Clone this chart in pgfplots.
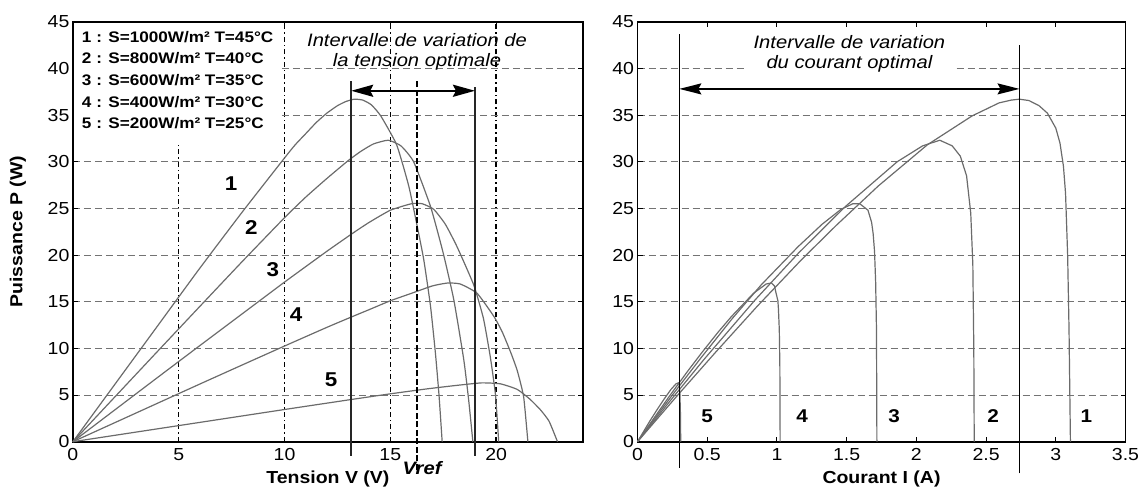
\documentclass[border=0pt]{standalone}
\usepackage{pgfplots}
\pgfplotsset{compat=1.18}
\usetikzlibrary{arrows.meta}
\usepackage{fontspec}
\setmainfont{Liberation Sans}[FakeStretch=1.12]

\pgfplotstableread{
V P
0 0
1 3.1
2 6.2
4 12.4
6 18.6
8 24.6
10 30.4
10.5 31.8
11 33.0
11.5 34.2
12 35.2
12.5 36.0
12.9 36.45
13.3 36.7
13.7 36.6
14.1 36.1
14.55 34.9
15.3 31.8
15.87 27.4
16.26 23.2
16.58 19.5
16.9 14.5
17.13 9.5
17.3 5
17.45 0
}\cvA
\pgfplotstableread{
V P
0 0
2 4.84
4 9.68
6 14.5
8 19.3
10 24.0
11 26.2
12 28.2
13 30.1
13.6 31.1
14.2 31.9
14.9 32.3
15.5 31.7
16.1 30.0
16.9 25.2
17.5 20.2
18 15.2
18.47 8.8
18.7 4.5
18.9 0
}\cvB
\pgfplotstableread{
V P
0 0
2 3.44
4 6.88
6 10.3
8 13.7
10 17.1
12 20.4
13.2 22.3
14 23.5
15 24.8
16 25.5
16.5 25.5
17.05 24.9
17.6 23.3
18.15 20.9
18.94 16.8
19.4 13.2
19.73 9.0
19.97 5
20.12 0
}\cvC
\pgfplotstableread{
V P
0 0
2 2.06
4 4.12
6 6.18
8 8.22
10 10.25
12 12.25
13.2 13.4
14 14.15
15 15.1
16 15.9
17 16.7
17.7 17.0
18.3 16.9
19.1 15.9
19.9 13.4
20.3 11.7
20.7 9.5
21.0 7.6
21.3 4.8
21.5 0
}\cvD
\pgfplotstableread{
V P
0 0
2 0.69
4 1.38
6 2.07
8 2.76
10 3.45
12 4.13
13.3 4.57
15 5.13
16.7 5.65
18 6.0
19.3 6.3
20.2 6.2
21 5.6
21.6 4.55
22.1 3.4
22.5 2.2
22.9 0
}\cvE

\pgfplotstableread{
I P
0 0
0.289 5
0.555 9.5
0.858 14.5
1.176 19.5
1.427 23.2
1.727 27.4
2.078 31.8
2.399 34.9
2.593 36.3
2.68 36.6
2.739 36.7
2.808 36.55
2.88 36.0
2.94 35.2
3.0 33.6
3.03 32.0
3.055 29.5
3.07 26.6
3.085 20
3.095 12
3.1 6
3.105 0
}\ciA
\pgfplotstableread{
I P
0 0
0.241 4.5
0.476 8.8
0.844 15.2
1.154 20.2
1.491 25.2
1.863 30.0
2.045 31.7
2.168 32.3
2.257 31.7
2.315 30.6
2.36 28.5
2.39 24.5
2.405 19
2.412 10
2.415 0
}\ciB
\pgfplotstableread{
I P
0 0
0.25 5
0.456 9.0
0.68 13.2
0.887 16.8
1.152 20.9
1.324 23.3
1.46 24.9
1.545 25.5
1.594 25.5
1.653 24.8
1.679 23.5
1.69 22.3
1.70 20.4
1.708 17.1
1.714 12
1.717 0
}\ciC
\pgfplotstableread{
I P
0 0
0.225 4.8
0.362 7.6
0.459 9.5
0.576 11.7
0.673 13.4
0.832 15.9
0.923 16.9
0.96 17.0
0.982 16.7
0.994 15.9
1.007 15.1
1.011 14.15
1.017 12
1.021 8
1.023 0
}\ciD
\pgfplotstableread{
I P
0 0
0.088 2.2
0.139 3.4
0.19 4.55
0.24 5.6
0.276 6.2
0.293 6.3
0.300 6.0
0.304 5.2
0.308 3
0.31 0
}\ciE

\begin{document}
\begin{tikzpicture}
\path[use as bounding box] (0,0) rectangle (1143pt,493pt);
\pgfplotsset{
  every axis/.append style={
    scale only axis, anchor=south west,
    height=420pt,
    ymin=0, ymax=45, ytick={0,5,...,45},
    tick align=inside, major tick length=5pt,
    axis line style={line width=1.6pt},
    every tick/.style={black, line width=1pt},
    tick label style={font=\fontsize{17.4}{17.4}\selectfont},
    /pgf/number format/assume math mode=true,
    ymajorgrids,
    y grid style={dash pattern=on 7pt off 4pt, black!55, line width=1pt},
    xlabel style={font=\bfseries\fontsize{17.4}{17.4}\selectfont, at={(axis description cs:0.5,-0.088)}, anchor=center},
    ylabel style={font=\bfseries\fontsize{17.4}{17.4}\selectfont, at={(axis description cs:-0.108,0.5)}, anchor=center},
    xticklabel style={yshift=-3pt},
    clip=false,
  },
  crv/.style={black!58, line width=1.2pt},
}

% ---------------- left: P(V) ----------------
\begin{axis}[
  at={(72.9pt,51.3pt)}, width=510pt,
  xmin=0, xmax=24.1, xtick={0,5,10,15,20},
  xmajorgrids,
  x grid style={black, line width=1.3pt, dash pattern=on 5pt off 3pt on 1.5pt off 3pt},
  xlabel={Tension V (V)}, ylabel={Puissance P (W)},
]
\fill[white] (axis cs:0.06,31.8) rectangle (axis cs:9.7,44.9);
\addplot[crv, smooth, tension=0.3] table[x=V,y=P] {\cvA};
\addplot[crv, smooth, tension=0.3] table[x=V,y=P] {\cvB};
\addplot[crv, smooth, tension=0.3] table[x=V,y=P] {\cvC};
\addplot[crv, smooth, tension=0.3] table[x=V,y=P] {\cvD};
\addplot[crv, smooth, tension=0.3] table[x=V,y=P] {\cvE};
\draw[black!85, line width=1.4pt] (axis cs:13.15,-1.5) -- (axis cs:13.15,38.6);
\draw[black!85, line width=1.4pt] (axis cs:19.0,-1.5) -- (axis cs:19.0,38.0);
\draw[black, line width=2.2pt, dash pattern=on 6pt off 2.5pt] (axis cs:16.26,-3) -- (axis cs:16.26,38.8);
\draw[line width=2.4pt, {Stealth[length=22pt,width=12pt,inset=3pt]}-{Stealth[length=22pt,width=12pt,inset=3pt]}] (axis cs:13.15,37.6) -- (axis cs:19.0,37.6);
\node[font=\itshape\fontsize{18}{18}\selectfont, align=center] at (axis cs:16.26,41.75) {Intervalle de variation de\\[2pt]la tension optimale};
\begin{scope}[font=\bfseries\fontsize{15.3}{15.3}\selectfont]
\node[anchor=west, inner sep=0pt] at (axis cs:0.42,43.4) {1 : S=1000W/m² T=45°C};
\node[anchor=west, inner sep=0pt] at (axis cs:0.42,41.08) {2 : S=800W/m² T=40°C};
\node[anchor=west, inner sep=0pt] at (axis cs:0.42,38.75) {3 : S=600W/m² T=35°C};
\node[anchor=west, inner sep=0pt] at (axis cs:0.42,36.43) {4 : S=400W/m² T=30°C};
\node[anchor=west, inner sep=0pt] at (axis cs:0.42,34.1) {5 : S=200W/m² T=25°C};
\end{scope}
\begin{scope}[font=\bfseries\fontsize{20}{20}\selectfont]
\node at (axis cs:7.48,27.7) {1};
\node at (axis cs:8.43,23.0) {2};
\node at (axis cs:9.45,18.4) {3};
\node at (axis cs:10.55,13.6) {4};
\node at (axis cs:12.2,6.6) {5};
\end{scope}
\node[font=\bfseries\itshape\fontsize{18}{18}\selectfont] at (axis cs:16.5,-2.8) {Vref};
\end{axis}

% ---------------- right: P(I) ----------------
\begin{axis}[
  at={(637.5pt,51.3pt)}, width=488pt,
  xmin=0, xmax=3.5, xtick={0,0.5,...,3.5},
  xlabel={Courant I (A)},
]
\addplot[crv] table[x=I,y=P] {\ciA};
\addplot[crv] table[x=I,y=P] {\ciB};
\addplot[crv] table[x=I,y=P] {\ciC};
\addplot[crv] table[x=I,y=P] {\ciD};
\addplot[crv] table[x=I,y=P] {\ciE};
\draw[black, line width=1pt] (axis cs:0.30,-2.8) -- (axis cs:0.30,43.7);
\draw[black, line width=1pt] (axis cs:2.74,-3.4) -- (axis cs:2.74,42.5);
\draw[line width=1.6pt, {Stealth[length=22pt,width=11pt,inset=3pt]}-{Stealth[length=22pt,width=11pt,inset=3pt]}] (axis cs:0.30,37.8) -- (axis cs:2.74,37.8);
\node[font=\itshape\fontsize{18}{18}\selectfont, align=center, fill=white, inner xsep=8pt] at (axis cs:1.52,41.55) {Intervalle de variation\\[2pt]du courant optimal};
\begin{scope}[font=\bfseries\fontsize{18.5}{18.5}\selectfont]
\node at (axis cs:0.50,2.7) {5};
\node at (axis cs:1.18,2.7) {4};
\node at (axis cs:1.84,2.7) {3};
\node at (axis cs:2.55,2.7) {2};
\node at (axis cs:3.22,2.7) {1};
\end{scope}
\end{axis}
\end{tikzpicture}
\end{document}
